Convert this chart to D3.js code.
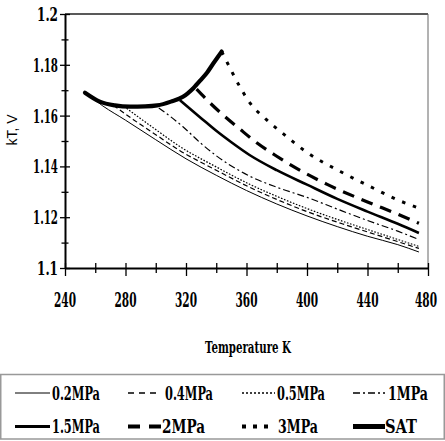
<!DOCTYPE html>
<html>
<head>
<meta charset="utf-8">
<script src="https://cdn.jsdelivr.net/npm/d3@7"></script>
<style>
  html, body { margin: 0; padding: 0; background: #fff; }
  svg { display: block; }
  .serif { font-family: "DejaVu Serif", serif; font-weight: bold; fill: #000; }
</style>
</head>
<body>
<svg id="chart" width="445" height="441"></svg>
<script>
// series values (temperature in K, kT in V)
const satT = [253.2, 263, 273, 283, 293, 301, 310, 318, 325, 330, 334, 338, 343.6];
const satK = [1.1690, 1.1655, 1.1640, 1.1635, 1.1636, 1.1640, 1.1655, 1.1674, 1.1709, 1.1742, 1.1770, 1.1805, 1.1852];

const t02 = [253.5, 265, 280, 300, 320, 340, 360, 380, 400, 420, 440, 460, 474];
const k02 = [1.1690, 1.1638, 1.1582, 1.1505, 1.1430, 1.1365, 1.1305, 1.1252, 1.1205, 1.1163, 1.1125, 1.1092, 1.1063];

const t04 = [272, 285, 300, 316, 340, 362, 380, 400, 428, 450, 474];
const k04 = [1.1641, 1.1585, 1.1525, 1.1462, 1.1385, 1.1318, 1.1270, 1.1222, 1.1165, 1.1123, 1.1077];

const t05 = [279, 290, 300, 316, 340, 362, 380, 400, 428, 450, 474];
const k05 = [1.1636, 1.1588, 1.1545, 1.1478, 1.1398, 1.1330, 1.1282, 1.1234, 1.1175, 1.1132, 1.1085];

const t1 = [302, 310, 318, 330, 340, 362, 380, 400, 420, 440, 460, 474];
const k1 = [1.1630, 1.1595, 1.1556, 1.1490, 1.1442, 1.1362, 1.1318, 1.1278, 1.1232, 1.1187, 1.1145, 1.1112];

const t15 = [316, 330, 340, 350, 362, 380, 400, 420, 440, 460, 474];
const k15 = [1.1661, 1.1590, 1.1540, 1.1495, 1.1445, 1.1385, 1.1328, 1.1272, 1.1222, 1.1174, 1.1138];

const t2 = [327, 335, 345, 355, 367, 380, 390, 413, 440, 460, 474];
const k2 = [1.1704, 1.1655, 1.1600, 1.1550, 1.1492, 1.1440, 1.1403, 1.1330, 1.1260, 1.1212, 1.1176];

const t3 = [343.6, 347, 355, 362, 373, 384, 400, 422, 444, 460, 474];
const k3 = [1.1852, 1.1812, 1.1720, 1.1652, 1.1585, 1.1530, 1.1455, 1.1380, 1.1314, 1.1268, 1.1236];

const seriesNames = ['0.2MPa', '0.4MPa', '0.5MPa', '1MPa', '1.5MPa', '2MPa', '3MPa', 'SAT'];

// tick labels
const xTicks = [240, 280, 320, 360, 400, 440, 480];
const yTicks = [1.1, 1.12, 1.14, 1.16, 1.18, 1.2];

// line styles per series
const styles = {
  '0.2MPa': { w: 1, dash: null },
  '0.4MPa': { w: 1.2, dash: '5,3' },
  '0.5MPa': { w: 1.2, dash: '1.6,1.6' },
  '1MPa':   { w: 1.2, dash: '7,3,2,3' },
  '1.5MPa': { w: 2.6, dash: null },
  '2MPa':   { w: 3.2, dash: '12,8' },
  '3MPa':   { w: 3, dash: '3.5,8' },
  'SAT':    { w: 4.2, dash: null }
};

const seriesData = {
  '0.2MPa': d3.zip(t02, k02),
  '0.4MPa': d3.zip(t04, k04),
  '0.5MPa': d3.zip(t05, k05),
  '1MPa': d3.zip(t1, k1),
  '1.5MPa': d3.zip(t15, k15),
  '2MPa': d3.zip(t2, k2),
  '3MPa': d3.zip(t3, k3),
  'SAT': d3.zip(satT, satK)
};

const svg = d3.select('#chart');

const x = d3.scaleLinear().domain([240, 480]).range([65, 428]);
const y = d3.scaleLinear().domain([1.1, 1.2]).range([268, 14]);

// frame on top and right
svg.append('line')
  .attr('x1', x(240)).attr('x2', x(480))
  .attr('y1', y(1.2)).attr('y2', y(1.2))
  .attr('stroke', '#222').attr('stroke-width', 1.6);
svg.append('line')
  .attr('x1', x(480)).attr('x2', x(480))
  .attr('y1', y(1.2)).attr('y2', y(1.1))
  .attr('stroke', '#666').attr('stroke-width', 1);

// lines
const line = d3.line()
  .x(d => x(d[0]))
  .y(d => y(d[1]))
  .curve(d3.curveMonotoneX);

svg.append('g')
  .selectAll('path')
  .data(seriesNames)
  .enter()
  .append('path')
  .attr('d', d => line(seriesData[d]))
  .attr('fill', 'none')
  .attr('stroke', '#000')
  .attr('stroke-width', d => styles[d].w)
  .attr('stroke-dasharray', d => styles[d].dash)
  .attr('stroke-linecap', d => d === 'SAT' ? 'round' : 'butt')
  .attr('stroke-linejoin', 'round');

// X axis
const xMinor = d3.range(240, 481, 20);
const xAxis = svg.append('g')
  .attr('transform', `translate(0,${y(1.1)})`)
  .call(d3.axisBottom(x).tickValues(xMinor).tickSize(0).tickFormat(''));
xAxis.select('.domain').attr('stroke', '#000').attr('stroke-width', 2);
xAxis.selectAll('.tick line')
  .attr('stroke', '#000')
  .attr('stroke-width', 1.3)
  .attr('y1', -5)
  .attr('y2', d => xTicks.includes(d) ? 8 : 5);

svg.append('g')
  .selectAll('text')
  .data(xTicks)
  .enter()
  .append('text')
  .attr('class', 'serif')
  .attr('x', d => x(d) - (d === 480 ? 2 : 0))
  .attr('y', 307)
  .attr('text-anchor', 'middle')
  .attr('textLength', 22)
  .attr('lengthAdjust', 'spacingAndGlyphs')
  .style('font-size', '20px')
  .text(d => d);

// Y axis
const yMinor = d3.range(0, 11).map(i => 1.1 + i * 0.01);
const yAxis = svg.append('g')
  .attr('transform', `translate(${x(240)},0)`)
  .call(d3.axisLeft(y).tickValues(yMinor).tickSize(0).tickFormat(''));
yAxis.select('.domain').attr('stroke', '#000').attr('stroke-width', 2);
yAxis.selectAll('.tick line')
  .attr('stroke', '#000')
  .attr('stroke-width', 1.3)
  .attr('x1', (d, i) => i % 2 === 0 ? -5 : -3.5)
  .attr('x2', (d, i) => i % 2 === 0 ? 5 : 3.5);

svg.append('g')
  .selectAll('text')
  .data(yTicks)
  .enter()
  .append('text')
  .attr('class', 'serif')
  .attr('x', 58)
  .attr('y', d => y(d) + 7)
  .attr('text-anchor', 'end')
  .attr('textLength', d => String(d).length === 3 ? 21 : 25)
  .attr('lengthAdjust', 'spacingAndGlyphs')
  .style('font-size', '19px')
  .text(d => d);

// axis titles
svg.append('text')
  .attr('class', 'serif')
  .attr('x', 248)
  .attr('y', 353)
  .attr('text-anchor', 'middle')
  .attr('textLength', 86)
  .attr('lengthAdjust', 'spacingAndGlyphs')
  .style('font-size', '17px')
  .text('Temperature K');

svg.append('text')
  .attr('transform', 'translate(17,130) rotate(-90)')
  .attr('text-anchor', 'middle')
  .style('font-family', "'Liberation Sans', Arial, sans-serif")
  .style('font-size', '14px')
  .text('kT, V');

// legend
svg.append('rect')
  .attr('x', 0.75).attr('y', 374.5)
  .attr('width', 443.5).attr('height', 64.5)
  .attr('fill', 'none')
  .attr('stroke', '#999')
  .attr('stroke-width', 1.5);

const legendItems = [
  { name: '0.2MPa', x1: 15, x2: 50, tx: 52, tw: 48, row: 0 },
  { name: '0.4MPa', x1: 128, x2: 157, tx: 165, tw: 48, row: 0 },
  { name: '0.5MPa', x1: 242, x2: 275, tx: 277, tw: 48, row: 0 },
  { name: '1MPa', x1: 353, x2: 385, tx: 388, tw: 40, row: 0 },
  { name: '1.5MPa', x1: 15, x2: 50, tx: 52, tw: 48, row: 1 },
  { name: '2MPa', x1: 128, x2: 162, tx: 162, tw: 43, row: 1 },
  { name: '3MPa', x1: 242, x2: 274, tx: 278, tw: 40, row: 1 },
  { name: 'SAT', x1: 353, x2: 385, tx: 385, tw: 32, row: 1 }
];
const legendStyles = {
  '0.2MPa': { w: 1, dash: null },
  '0.4MPa': { w: 1.3, dash: '6,5' },
  '0.5MPa': { w: 1.3, dash: '2,2' },
  '1MPa': { w: 1.3, dash: '7,3,2,3' },
  '1.5MPa': { w: 3, dash: null },
  '2MPa': { w: 4, dash: '12,9' },
  '3MPa': { w: 4, dash: '4,7' },
  'SAT': { w: 5, dash: null }
};
const rowY = [393, 426.5];

const li = svg.append('g')
  .selectAll('g')
  .data(legendItems)
  .enter()
  .append('g');

li.append('line')
  .attr('x1', d => d.x1)
  .attr('x2', d => d.x2)
  .attr('y1', d => rowY[d.row])
  .attr('y2', d => rowY[d.row])
  .attr('stroke', '#000')
  .attr('stroke-width', d => legendStyles[d.name].w)
  .attr('stroke-dasharray', d => legendStyles[d.name].dash);

li.append('text')
  .attr('class', 'serif')
  .attr('x', d => d.tx)
  .attr('y', d => rowY[d.row] + 6.5)
  .attr('textLength', d => d.tw)
  .attr('lengthAdjust', 'spacingAndGlyphs')
  .style('font-size', '18px')
  .text(d => d.name);
</script>
</body>
</html>
